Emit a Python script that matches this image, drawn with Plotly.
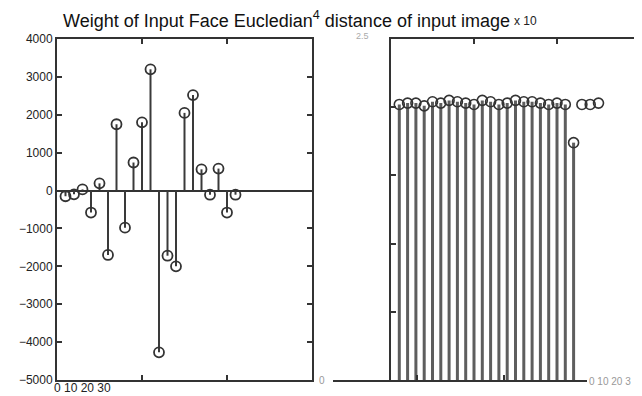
import plotly.graph_objects as go

# page body has an 8px margin, so the figure is sized to fill the rest of the window
OFF = 8
W, H = 642 - OFF, 396 - OFF

# ---- data ----
weight_index = list(range(1, 22))
weight_values = [-150, -100, 30, -580, 190, -1700, 1750, -980, 740, 1800, 3200,
                 -4270, -1720, -2000, 2050, 2520, 560, -110, 580, -580, -110]

dist_index = list(range(1, 26))
dist_values = [2.02, 2.03, 2.03, 2.01, 2.04, 2.03, 2.05, 2.04, 2.03, 2.02, 2.05,
               2.04, 2.02, 2.03, 2.05, 2.04, 2.04, 2.03, 2.02, 2.03, 2.02, 1.74,
               2.02, 2.02, 2.03]
dist_stem_shown = [True] * 22 + [False] * 3

left_yticks = list(range(-5000, 4001, 1000))
right_yticks = [0.5, 1.0, 1.5, 2.0]
x_ticks = [10, 20]

FONT = "Liberation Sans, Arial, sans-serif"
AX = "#333333"


def px(x):
    return (x - OFF) / W


def py(y):
    return 1 - (y - OFF) / H


def stems(xs, ys, base=0.0, mask=None):
    sx, sy = [], []
    for i, (a, b) in enumerate(zip(xs, ys)):
        if mask is not None and not mask[i]:
            continue
        sx += [a, a, None]
        sy += [base, b, None]
    return sx, sy


fig = go.Figure()

# dummy trace so the shifted bottom axis of the right plot is drawn
fig.add_trace(go.Scatter(x=[None], y=[None], xaxis="x3", yaxis="y3",
                         showlegend=False, hoverinfo="skip"))

# left stem plot
lx, ly = stems(weight_index, weight_values)
fig.add_trace(go.Scatter(x=lx, y=ly, mode="lines", line=dict(color="#3a3a3a", width=2),
                         xaxis="x", yaxis="y", hoverinfo="skip"))
fig.add_trace(go.Scatter(x=weight_index, y=weight_values, mode="markers",
                         marker=dict(symbol="circle-open", size=10, color="#333",
                                     line=dict(width=1.8, color="#333")),
                         xaxis="x", yaxis="y"))

# right stem plot
rx, ry = stems(dist_index, dist_values, mask=dist_stem_shown)
fig.add_trace(go.Scatter(x=rx, y=ry, mode="lines", line=dict(color="#5e5e5e", width=3),
                         xaxis="x2", yaxis="y2", hoverinfo="skip"))
fig.add_trace(go.Scatter(x=dist_index, y=dist_values, mode="markers",
                         marker=dict(symbol="circle-open", size=10, color="#333",
                                     line=dict(width=1.6, color="#333")),
                         xaxis="x2", yaxis="y2"))

ydom = [py(380), py(39)]

common_x = dict(showgrid=False, zeroline=False, showline=True, linecolor=AX, linewidth=2,
                ticks="inside", ticklen=5, tickwidth=1.5, tickcolor=AX,
                tickvals=x_ticks, showticklabels=False, automargin=False)

fig.update_layout(
    width=W, height=H, autosize=False,
    margin=dict(l=0, r=0, t=0, b=0, pad=0),
    paper_bgcolor="white", plot_bgcolor="rgba(0,0,0,0)",
    showlegend=False,
    xaxis=dict(domain=[px(57), px(312)], range=[0, 30], anchor="y", mirror="ticks", **common_x),
    yaxis=dict(domain=ydom, range=[-5000, 4000], anchor="x", tickvals=left_yticks,
               showgrid=False, zeroline=True, zerolinecolor=AX, zerolinewidth=2,
               showline=True, linecolor=AX, linewidth=2, mirror="ticks",
               ticks="inside", ticklen=5, tickwidth=1.5, tickcolor=AX, automargin=False,
               tickfont=dict(family=FONT, size=12, color="#222")),
    xaxis2=dict(domain=[px(391), px(640)], range=[0, 30], anchor="y2", side="top",
                mirror=False, **common_x),
    yaxis2=dict(domain=ydom, range=[0, 2.5], anchor="x2", tickvals=right_yticks,
                showgrid=False, zeroline=False, showline=True, linecolor=AX, linewidth=2,
                mirror="ticks", ticks="inside", ticklen=5, tickwidth=1.5, tickcolor=AX,
                showticklabels=False, automargin=False),
    xaxis3=dict(domain=[px(333), px(587)], range=[0.34, 29.54], anchor="y3",
                mirror=False, **common_x),
    yaxis3=dict(domain=ydom, range=[0, 1], anchor="x3", visible=False, automargin=False),
)

ann = [
    dict(text="Weight of Input Face Eucledian<sup>4</sup> distance of input image",
         x=px(61), y=py(19), xanchor="left", yanchor="middle",
         font=dict(family=FONT, size=18, color="#111")),
    dict(text="x 10", x=px(512), y=py(21), xanchor="left", yanchor="middle",
         font=dict(family=FONT, size=12, color="#222")),
    dict(text="0 10 20 30", x=px(52), y=py(388), xanchor="left", yanchor="middle",
         font=dict(family=FONT, size=12, color="#222")),
    dict(text="0 10 20 3", x=px(587), y=py(381), xanchor="left", yanchor="middle",
         font=dict(family=FONT, size=10, color="#999")),
    dict(text="0", x=px(322), y=py(380), xanchor="center", yanchor="middle",
         font=dict(family=FONT, size=10, color="#999")),
    dict(text="2.5", x=px(362), y=py(36), xanchor="center", yanchor="middle",
         font=dict(family=FONT, size=9, color="#aaa")),
]
for a in ann:
    a.update(xref="paper", yref="paper", showarrow=False)
fig.update_layout(annotations=ann)

fig.write_html("out.html")
